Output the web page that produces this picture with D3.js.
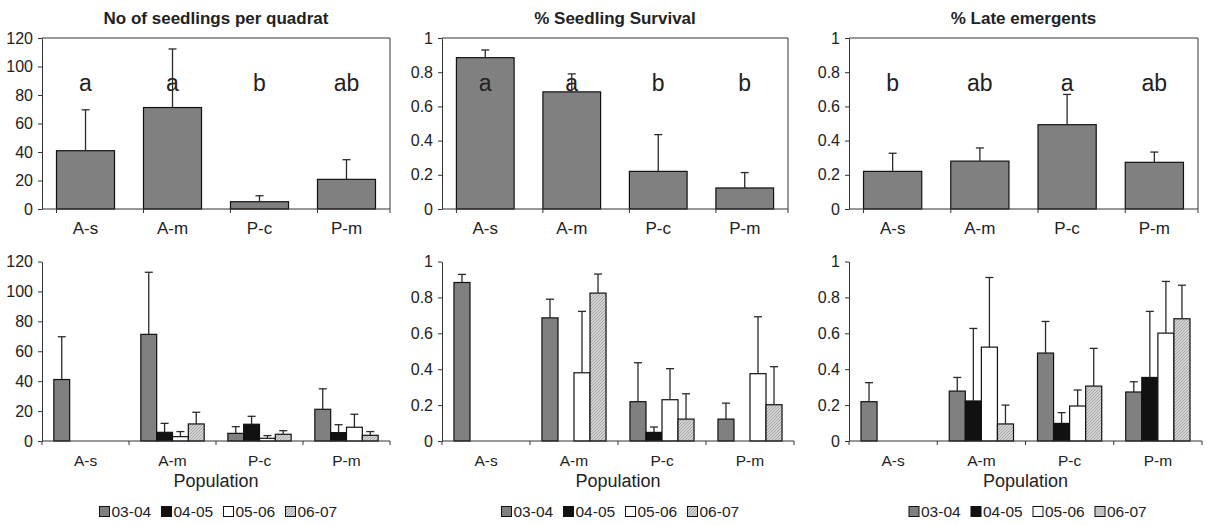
<!DOCTYPE html>
<html>
<head>
<meta charset="utf-8">
<script src="https://cdn.jsdelivr.net/npm/d3@7"></script>
<style>
  body { margin: 0; background: #fff; }
  text { font-family: "Liberation Sans", Arial, sans-serif; fill: #222; }
</style>
</head>
<body>
<script>

// categories
var populations = ["A-s", "A-m", "P-c", "P-m"];
var seasons = ["03-04", "04-05", "05-06", "06-07"];

// top row: pooled means, standard errors and letters
var seedMean = [40.9, 71.2, 5.1, 20.8];
var seedSE = [28.7, 41.1, 4.2, 13.8];
var seedLetters = ["a", "a", "b", "ab"];

var survMean = [0.885, 0.685, 0.22, 0.123];
var survSE = [0.045, 0.105, 0.215, 0.09];
var survLetters = ["a", "a", "b", "b"];

var lateMean = [0.22, 0.28, 0.493, 0.273];
var lateSE = [0.106, 0.077, 0.177, 0.06];
var lateLetters = ["b", "ab", "a", "ab"];

// bottom row: one array per season, values per population (null = no data)
var seedYearMean = [
  [41.1, 71.3, 5.1, 21.2],
  [null, 5.8, 11.2, 5.6],
  [null, 2.9, 1.8, 9.2],
  [null, 11.4, 4.5, 3.8]
];
var seedYearSE = [
  [28.6, 41.5, 4.5, 13.7],
  [null, 6.0, 5.3, 5.3],
  [null, 3.4, 1.8, 8.7],
  [null, 7.8, 2.4, 2.5]
];

var survYearMean = [
  [0.883, 0.686, 0.219, 0.122],
  [null, 0, 0.048, 0],
  [null, 0.38, 0.23, 0.375],
  [null, 0.824, 0.122, 0.202]
];
var survYearSE = [
  [0.045, 0.104, 0.217, 0.089],
  [null, 0, 0.03, 0],
  [null, 0.342, 0.173, 0.317],
  [null, 0.106, 0.141, 0.212]
];

var lateYearMean = [
  [0.219, 0.278, 0.49, 0.273],
  [null, 0.223, 0.098, 0.354],
  [null, 0.523, 0.195, 0.601],
  [null, 0.095, 0.306, 0.681]
];
var lateYearSE = [
  [0.106, 0.076, 0.176, 0.057],
  [null, 0.404, 0.06, 0.368],
  [null, 0.388, 0.089, 0.288],
  [null, 0.105, 0.21, 0.187]
];

var seasonFill = ["#808080", "#111111", "#ffffff", "url(#hatch)"];
var axisColor = "#333";

var svg = d3.select("body").append("svg")
    .attr("width", 1207)
    .attr("height", 525);

// hatched fill for 06-07
var pat = svg.append("defs").append("pattern")
    .attr("id", "hatch")
    .attr("patternUnits", "userSpaceOnUse")
    .attr("width", 3)
    .attr("height", 3);
pat.append("rect").attr("width", 3).attr("height", 3).attr("fill", "#d4d4d4");
pat.append("path")
    .attr("d", "M-1,1 l2,-2 M0,3 l3,-3 M2,4 l2,-2")
    .attr("stroke", "#909090")
    .attr("stroke-width", 0.7);

function yFormat(d) {
  return String(+d.toFixed(1));
}

function drawAxes(g, x, y, x0, x1, yMax, yStep, labelSize, labelY) {
  var y0 = y(0);

  var ya = d3.axisLeft(y)
      .tickValues(d3.range(0, yMax + yStep / 2, yStep))
      .tickFormat(yFormat)
      .tickSize(4)
      .tickSizeOuter(0)
      .tickPadding(5);

  var gy = g.append("g")
      .attr("transform", "translate(" + x0 + ",0)")
      .call(ya);
  gy.select(".domain").attr("stroke", axisColor);
  gy.selectAll(".tick line").attr("stroke", axisColor);
  gy.selectAll(".tick text")
      .attr("font-size", 16)
      .attr("fill", "#222")
      .style("font-family", '"Liberation Sans", Arial, sans-serif');

  // x axis with ticks between categories
  g.append("line")
      .attr("x1", x0).attr("x2", x1)
      .attr("y1", y0).attr("y2", y0)
      .attr("stroke", axisColor);

  var edges = populations.map(function(p) { return x(p); }).concat([x1]);
  g.selectAll(".xtick")
      .data(edges)
      .enter().append("line")
      .attr("x1", function(d) { return d; })
      .attr("x2", function(d) { return d; })
      .attr("y1", y0)
      .attr("y2", y0 + 4)
      .attr("stroke", axisColor);

  g.selectAll(".xlab")
      .data(populations)
      .enter().append("text")
      .attr("x", function(d) { return x(d) + x.bandwidth() / 2; })
      .attr("y", labelY)
      .attr("text-anchor", "middle")
      .attr("font-size", labelSize)
      .text(function(d) { return d; });
}

function errorBars(g, data, cx, y) {
  var eg = g.append("g")
      .attr("stroke", "#2a2a2a")
      .attr("stroke-width", 1.3);
  data.forEach(function(d) {
    if (d.v == null || !d.se) return;
    var xc = cx(d);
    eg.append("line")
        .attr("x1", xc).attr("x2", xc)
        .attr("y1", y(d.v)).attr("y2", y(d.v + d.se));
    eg.append("line")
        .attr("x1", xc - 4).attr("x2", xc + 4)
        .attr("y1", y(d.v + d.se)).attr("y2", y(d.v + d.se));
  });
}

function drawTop(cfg) {
  var g = svg.append("g");
  var x = d3.scaleBand()
      .domain(populations)
      .range([cfg.x0, cfg.x1])
      .paddingInner(0.333)
      .paddingOuter(0.1667);
  var y = d3.scaleLinear()
      .domain([0, cfg.yMax])
      .range([209, 38]);

  // frame
  g.append("path")
      .attr("d", "M" + cfg.x0 + "," + y(cfg.yMax) + "H" + cfg.x1 + "V" + y(0))
      .attr("fill", "none")
      .attr("stroke", axisColor);

  var data = populations.map(function(p, i) {
    return { p: p, v: cfg.mean[i], se: cfg.se[i], letter: cfg.letters[i] };
  });

  g.selectAll(".bar")
      .data(data)
      .enter().append("rect")
      .attr("x", function(d) { return x(d.p); })
      .attr("width", x.bandwidth())
      .attr("y", function(d) { return y(d.v); })
      .attr("height", function(d) { return y(0) - y(d.v); })
      .attr("fill", "#808080")
      .attr("stroke", "#111")
      .attr("stroke-width", 1.2);

  g.selectAll(".letter")
      .data(data)
      .enter().append("text")
      .attr("x", function(d) { return x(d.p) + x.bandwidth() / 2; })
      .attr("y", y(cfg.yMax * 0.69))
      .attr("text-anchor", "middle")
      .attr("font-size", 23)
      .text(function(d) { return d.letter; });

  errorBars(g, data, function(d) { return x(d.p) + x.bandwidth() / 2; }, y);

  drawAxes(g, x, y, cfg.x0, cfg.x1, cfg.yMax, cfg.yStep, 17, 234);

  g.append("text")
      .attr("x", (cfg.x0 + cfg.x1) / 2)
      .attr("y", 24)
      .attr("text-anchor", "middle")
      .attr("font-size", 17)
      .attr("font-weight", "bold")
      .attr("fill", "#111")
      .text(cfg.title);
}

function drawBottom(cfg) {
  var g = svg.append("g");
  var x = d3.scaleBand()
      .domain(populations)
      .range([cfg.x0, cfg.x1]);
  var bw = x.bandwidth();
  var xs = d3.scaleBand()
      .domain(seasons)
      .range([bw * 0.136, bw * 0.864]);
  var y = d3.scaleLinear()
      .domain([0, cfg.yMax])
      .range([441, 261.5]);

  var data = [];
  seasons.forEach(function(s, si) {
    populations.forEach(function(p, pi) {
      if (cfg.mean[si][pi] == null) return;
      data.push({ p: p, s: s, si: si, v: cfg.mean[si][pi], se: cfg.se[si][pi] });
    });
  });

  g.selectAll(".bar")
      .data(data)
      .enter().append("rect")
      .attr("x", function(d) { return x(d.p) + xs(d.s); })
      .attr("width", xs.bandwidth())
      .attr("y", function(d) { return y(d.v); })
      .attr("height", function(d) { return y(0) - y(d.v); })
      .attr("fill", function(d) { return seasonFill[d.si]; })
      .attr("stroke", "#111")
      .attr("stroke-width", 1.2);

  errorBars(g, data, function(d) { return x(d.p) + xs(d.s) + xs.bandwidth() / 2; }, y);

  drawAxes(g, x, y, cfg.x0, cfg.x1, cfg.yMax, cfg.yStep, 15.5, 466);

  var cx = (cfg.x0 + cfg.x1) / 2;
  g.append("text")
      .attr("x", cx)
      .attr("y", 487)
      .attr("text-anchor", "middle")
      .attr("font-size", 18)
      .text("Population");

  var leg = g.append("g")
      .attr("transform", "translate(" + (cx - 117) + ",506)");
  var item = leg.selectAll(".leg")
      .data(seasons)
      .enter().append("g")
      .attr("transform", function(d, i) { return "translate(" + (i * 62) + ",0)"; });
  item.append("rect")
      .attr("width", 10)
      .attr("height", 10)
      .attr("x", 0.5)
      .attr("y", 0.5)
      .attr("fill", function(d, i) { return seasonFill[i]; })
      .attr("stroke", "#111");
  item.append("text")
      .attr("x", 12.5)
      .attr("y", 11)
      .attr("font-size", 15.5)
      .text(function(d) { return d; });
}

drawTop({ x0: 42, x1: 390, yMax: 120, yStep: 20, title: "No of seedlings per quadrat",
          mean: seedMean, se: seedSE, letters: seedLetters });
drawTop({ x0: 442, x1: 788, yMax: 1, yStep: 0.2, title: "% Seedling Survival",
          mean: survMean, se: survSE, letters: survLetters });
drawTop({ x0: 849, x1: 1198, yMax: 1, yStep: 0.2, title: "% Late emergents",
          mean: lateMean, se: lateSE, letters: lateLetters });

drawBottom({ x0: 42, x1: 390, yMax: 120, yStep: 20, mean: seedYearMean, se: seedYearSE });
drawBottom({ x0: 442, x1: 794, yMax: 1, yStep: 0.2, mean: survYearMean, se: survYearSE });
drawBottom({ x0: 849, x1: 1202, yMax: 1, yStep: 0.2, mean: lateYearMean, se: lateYearSE });

</script>
</body>
</html>
